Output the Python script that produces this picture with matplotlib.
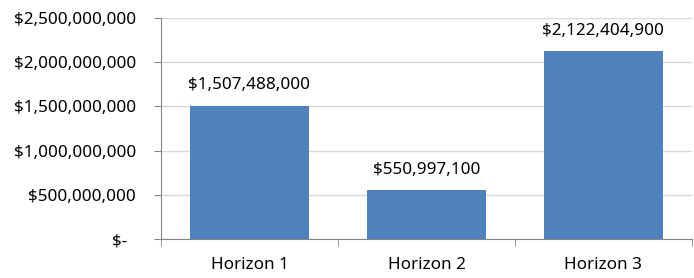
import matplotlib.pyplot as plt
import numpy as np

# chart data
categories = ['Horizon 1', 'Horizon 2', 'Horizon 3']
values = [1507488000, 550997100, 2122404900]
y_ticks = [0, 500000000, 1000000000, 1500000000, 2000000000, 2500000000]

plt.rcParams['font.family'] = ['Noto Sans', 'DejaVu Sans']
fs = 12.3

fig = plt.figure(figsize=(6.94, 2.78), dpi=100)
ax = fig.add_axes([0.232, 0.140, 0.765, 0.795])

x = np.arange(len(categories))
bars = ax.bar(x, values, width=0.67, color='#4F81BD', zorder=3)

# data labels above bars
for b, v in zip(bars, values):
    ax.annotate(f'${v:,.0f}', (b.get_x() + b.get_width() / 2, v),
                xytext=(0, 12), textcoords='offset points',
                ha='center', va='baseline', fontsize=fs, color='black')

ax.set_xlim(-0.5, len(categories) - 0.5)
ax.set_ylim(0, 2500000000)

# y axis in accounting style
ax.set_yticks(y_ticks)
ax.set_yticklabels(['$-  '] + [f'${t:,.0f}' for t in y_ticks[1:]], fontsize=fs)

# category labels centered, ticks at boundaries
ax.set_xticks(x)
ax.set_xticklabels(categories, fontsize=fs)
ax.tick_params(axis='x', length=0, pad=13)
ax.set_xticks(np.arange(-0.5, len(categories)), minor=True)
ax.tick_params(axis='x', which='minor', length=5, color='#868686')
ax.tick_params(axis='y', length=5, color='#868686', pad=13)

ax.grid(axis='y', color='#D9D9D9', linewidth=1, zorder=0)
for s in ['top', 'right']:
    ax.spines[s].set_visible(False)
for s in ['left', 'bottom']:
    ax.spines[s].set_color('#868686')

plt.savefig('out.png', dpi=100)
